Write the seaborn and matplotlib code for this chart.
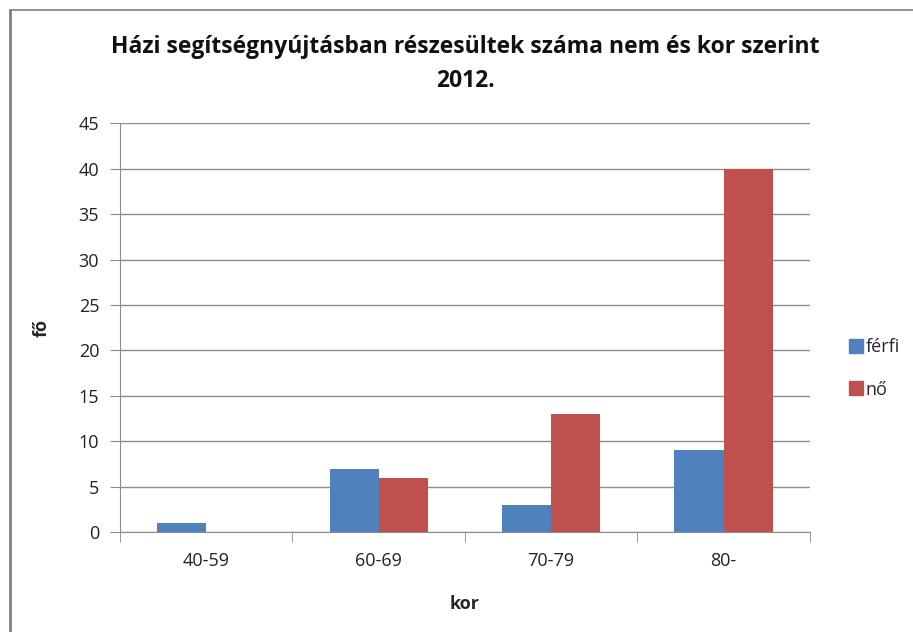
"""Házi segítségnyújtás: részesültek száma nem és kor szerint, 2012."""
import matplotlib
matplotlib.use("Agg")
import matplotlib.pyplot as plt
import matplotlib.lines as mlines
import numpy as np
import pandas as pd
import seaborn as sns

age_groups = ["40-59", "60-69", "70-79", "80-"]
ferfi = [1, 7, 3, 9]
no = [0, 6, 13, 40]
series_names = ["férfi", "nő"]
colors = ["#4F81BD", "#C0504D"]

df = pd.DataFrame({
    "kor": age_groups * 2,
    "fő": ferfi + no,
    "nem": [series_names[0]] * len(age_groups) + [series_names[1]] * len(age_groups),
})

sns.set_style("white")
plt.rcParams["font.family"] = ["Open Sans", "DejaVu Sans"]

fig = plt.figure(figsize=(9.13, 6.32), dpi=100)
ax = fig.add_axes([0.1314, 0.158, 0.7556, 0.647])

sns.barplot(data=df, x="kor", y="fő", hue="nem", palette=colors, width=0.57,
            saturation=1, linewidth=0, ax=ax, legend=True)

ax.set_ylim(0, 45)
ax.set_xlim(-0.5, len(age_groups) - 0.5)
ax.set_yticks(np.arange(0, 46, 5))
ax.yaxis.grid(True, color="#8c8c8c", linewidth=1)
ax.set_axisbelow(True)
for s in ["top", "right"]:
    ax.spines[s].set_visible(False)
for s in ["left", "bottom"]:
    ax.spines[s].set_color("#8c8c8c")
ax.tick_params(axis="y", length=7, color="#8c8c8c", labelsize=13, pad=8,
               left=True, labelcolor="#222222")
ax.tick_params(axis="x", which="major", length=0, labelsize=13, pad=14,
               labelcolor="#222222")
ax.set_xticks(np.arange(-0.5, len(age_groups)), minor=True)
ax.tick_params(axis="x", which="minor", length=7, color="#8c8c8c", bottom=True)

ax.set_xlabel("kor", fontsize=13, fontweight="bold", labelpad=18)
ax.set_ylabel("fő", fontsize=13, fontweight="bold", labelpad=20)

handles = [mlines.Line2D([], [], marker="s", linestyle="none", markersize=10,
                         color=c) for c in colors]
ax.legend(handles, series_names, loc="center left", bbox_to_anchor=(1.03, 0.40),
          frameon=False, fontsize=13, handletextpad=0.05, labelspacing=1.35,
          handlelength=1.0)

fig.text(0.51, 0.899, "Házi segítségnyújtásban részesültek száma nem és kor szerint\n2012.",
         ha="center", va="center", fontsize=16.5, fontweight="bold",
         linespacing=1.55, color="#111111")

# outer chart frame (left and top edges visible in the original)
fig.add_artist(mlines.Line2D([0.011, 0.011], [0, 0.984], color="#808080", lw=2,
                             transform=fig.transFigure))
fig.add_artist(mlines.Line2D([0.011, 1], [0.984, 0.984], color="#808080", lw=1.2,
                             transform=fig.transFigure))

fig.savefig("out.png", dpi=100)
